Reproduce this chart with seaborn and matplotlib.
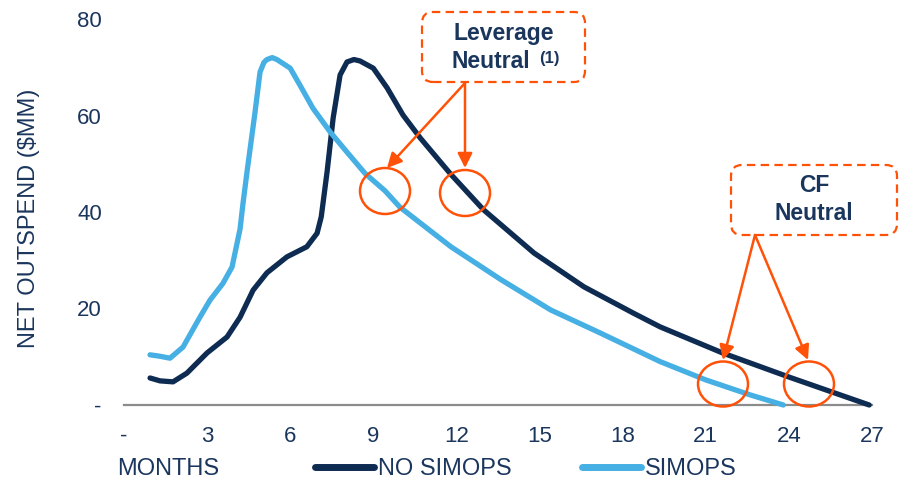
import matplotlib
matplotlib.use('Agg')
import matplotlib.pyplot as plt
import seaborn as sns
import pandas as pd
from matplotlib.patches import Ellipse, FancyBboxPatch, FancyArrowPatch

# ---------------- data ----------------
no_simops_month = [0.94, 1.3, 1.77, 2.27, 3.0, 3.72, 4.19, 4.66, 5.16, 5.88, 6.6, 6.97,
                   7.12, 7.33, 7.55, 7.8, 8.05, 8.3, 8.52, 9.0, 9.5, 10.07, 10.7, 11.3,
                   11.8, 12.97, 14.8, 16.6, 18.4, 19.35, 21.6, 24.0, 26.9]
no_simops_value = [5.6, 5.0, 4.8, 6.6, 10.8, 14.1, 18.2, 23.8, 27.4, 30.7, 32.8, 35.6,
                   39.0, 48.3, 59.5, 68.4, 71.1, 71.6, 71.3, 69.8, 65.7, 60.1, 55.3, 51.2,
                   47.8, 40.5, 31.5, 24.5, 19.0, 16.2, 10.8, 5.8, 0.0]

simops_month = [0.94, 1.3, 1.66, 2.13, 2.74, 3.1, 3.57, 3.9, 4.08, 4.19, 4.3, 4.44, 4.73,
                4.91, 5.05, 5.16, 5.35, 5.52, 6.0, 6.35, 6.82, 7.44, 8.05, 8.7, 9.42, 9.96,
                10.7, 11.8, 13.6, 15.4, 17.2, 19.35, 21.0, 22.6, 23.8]
simops_value = [10.4, 10.1, 9.7, 12.0, 18.2, 21.7, 25.2, 28.6, 33.5, 36.5, 42.0, 48.3, 60.7,
                69.0, 71.0, 71.6, 72.0, 71.6, 69.8, 66.3, 61.5, 56.6, 52.4, 48.0, 44.4, 41.0,
                37.7, 32.8, 26.0, 19.7, 14.9, 9.0, 5.2, 2.1, 0.0]

series_names = ['NO SIMOPS', 'SIMOPS']
x_ticks = [0, 3, 6, 9, 12, 15, 18, 21, 24, 27]
x_tick_labels = ['-', '3', '6', '9', '12', '15', '18', '21', '24', '27']
y_ticks = [0, 20, 40, 60, 80]
y_tick_labels = ['-', '20', '40', '60', '80']

df = pd.concat([
    pd.DataFrame({'month': no_simops_month, 'value': no_simops_value, 'series': series_names[0]}),
    pd.DataFrame({'month': simops_month, 'value': simops_value, 'series': series_names[1]}),
], ignore_index=True)

# ---------------- style ----------------
NAVY = '#0E2B52'
LIGHT = '#46AFE3'
TXT = '#1B365D'
ORANGE = '#FF5208'
GRAY = '#8C8C8C'

sns.set_theme(style='white')
plt.rcParams['font.family'] = ['Liberation Sans', 'DejaVu Sans']

W, H = 909, 482
fig = plt.figure(figsize=(W / 100, H / 100), dpi=100)
ax = fig.add_axes([124 / W, (H - 405) / H, (872 - 124) / W, (405 - 19) / H])

sns.lineplot(data=df, x='month', y='value', hue='series', hue_order=series_names,
             palette=[NAVY, LIGHT], linewidth=3.8, sort=False, estimator=None, ax=ax)
for ln in ax.lines:
    ln.set_solid_capstyle('round')
    ln.set_solid_joinstyle('round')
    ln.set_clip_on(False)

ax.set_xlim(0, 27)
ax.set_ylim(0, 80)
ax.set_xticks(x_ticks)
ax.set_xticklabels(x_tick_labels)
ax.set_yticks(y_ticks)
ax.set_yticklabels(y_tick_labels)
ax.tick_params(axis='both', length=0, labelsize=16, labelcolor=TXT)
ax.tick_params(axis='x', pad=15)
ax.tick_params(axis='y', pad=16)
ax.set_xlabel('')
ax.set_ylabel('')
for s in ['top', 'right', 'left']:
    ax.spines[s].set_visible(False)
ax.spines['bottom'].set_color(GRAY)
ax.spines['bottom'].set_linewidth(1.6)
ax.spines['bottom'].set_zorder(0.5)

# legend
handles, labels = ax.get_legend_handles_labels()
leg = ax.legend(handles, labels, loc='center left', bbox_to_anchor=(315 / W, (H - 469) / H),
                bbox_transform=fig.transFigure, ncol=2, frameon=False, fontsize=17,
                handlelength=2.5, handletextpad=0.15, columnspacing=3.0,
                borderpad=0, borderaxespad=0, labelcolor=TXT)
for lh in leg.get_lines():
    lh.set_linewidth(5)

fig.text(117 / W, (H - 469) / H, 'MONTHS', fontsize=17, color=TXT, ha='left', va='center')
fig.text(29 / W, (H - 218) / H, 'NET OUTSPEND ($MM)', fontsize=17, color=TXT,
         rotation=90, ha='center', va='center')

# ---------------- annotations (pixel positions -> inches) ----------------
T = fig.dpi_scale_trans


def P(x, y):
    return (x / 100, (H - y) / 100)


def box(x0, y0, x1, y1):
    p = FancyBboxPatch(P(x0, y1), (x1 - x0) / 100, (y1 - y0) / 100,
                       boxstyle='round,pad=0,rounding_size=0.11', transform=T,
                       fill=False, ec=ORANGE, lw=1.6, ls=(0, (3.8, 2.4)))
    fig.add_artist(p)


def ring(cx, cy, w=50, h=46):
    e = Ellipse(P(cx, cy), w / 100, h / 100, transform=T, fill=False, ec=ORANGE, lw=1.8)
    fig.add_artist(e)


def arrow(x0, y0, x1, y1):
    a = FancyArrowPatch(P(x0, y0), P(x1, y1), transform=T, arrowstyle='-|>',
                        mutation_scale=22, color=ORANGE, lw=1.8, shrinkA=0, shrinkB=0)
    fig.add_artist(a)


box(422, 12, 585, 82)
fig.text(*P(504, 34), 'Leverage', transform=T, fontsize=16.5, fontweight='bold',
         color=TXT, ha='center', va='center')
fig.text(*P(491, 62), 'Neutral', transform=T, fontsize=16.5, fontweight='bold',
         color=TXT, ha='center', va='center')
fig.text(*P(549, 58), '(1)', transform=T, fontsize=12, fontweight='bold',
         color=TXT, ha='center', va='center')
arrow(465, 83, 387, 168)
arrow(465, 83, 465, 168)
ring(385, 191)
ring(465, 193)

box(731, 165, 897, 235)
fig.text(*P(814, 186), 'CF', transform=T, fontsize=16.5, fontweight='bold',
         color=TXT, ha='center', va='center')
fig.text(*P(814, 214), 'Neutral', transform=T, fontsize=16.5, fontweight='bold',
         color=TXT, ha='center', va='center')
arrow(755, 235, 723, 360)
arrow(755, 235, 808, 360)
ring(723, 384, 50, 45)
ring(809, 384, 50, 45)

fig.savefig('out.png', dpi=100)
